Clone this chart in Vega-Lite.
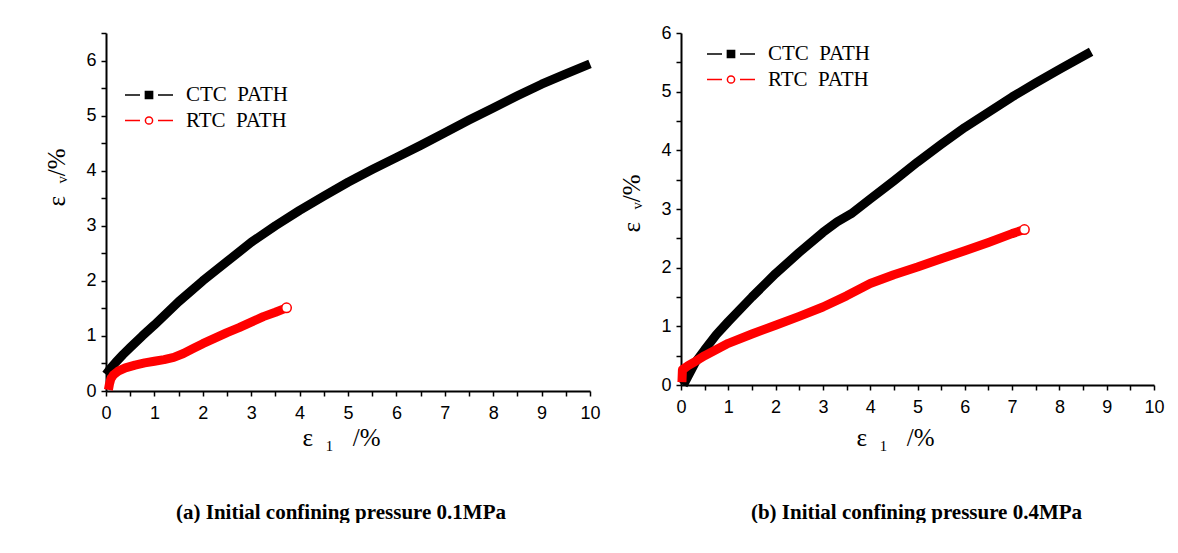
{
  "$schema": "https://vega.github.io/schema/vega-lite/v6.json",
  "background": "white",
  "padding": {"left": 44, "top": 24, "right": 0, "bottom": 0},
  "bounds": "flush",
  "spacing": 91,
  "config": {
    "view": {"stroke": null},
    "font": "Liberation Sans",
    "axis": {"domainColor": "#000", "domainWidth": 2, "tickColor": "#000", "tickWidth": 1.5, "tickSize": 5, "labelFont": "Liberation Sans", "labelFontSize": 18, "labelColor": "#000", "labelPadding": 5, "labelFlush": false, "labelOverlap": false, "grid": false, "titleFont": "Liberation Serif", "titleFontSize": 25, "titleFontWeight": "normal", "titleColor": "#000"},
    "axisX": {"labelPadding": 8},
    "title": {"font": "Liberation Serif", "fontSize": 21, "fontWeight": "bold", "color": "#000"},
    "legend": {"orient": "none", "title": null, "padding": 0, "symbolSize": 576, "labelFont": "Liberation Serif", "labelFontSize": 21, "labelColor": "#000", "labelOffset": 12, "rowPadding": 2.5, "symbolStrokeWidth": 1.5}
  },
  "datasets": {
    "a": [
      {"series": "CTC PATH", "x": 0, "y": 0.3}, {"series": "CTC PATH", "x": 0.1, "y": 0.42}, {"series": "CTC PATH", "x": 0.2, "y": 0.52}, {"series": "CTC PATH", "x": 0.35, "y": 0.66}, {"series": "CTC PATH", "x": 0.5, "y": 0.79}, {"series": "CTC PATH", "x": 0.75, "y": 1.0}, {"series": "CTC PATH", "x": 1, "y": 1.2}, {"series": "CTC PATH", "x": 1.5, "y": 1.62}, {"series": "CTC PATH", "x": 2, "y": 2.0}, {"series": "CTC PATH", "x": 2.5, "y": 2.35}, {"series": "CTC PATH", "x": 3, "y": 2.7}, {"series": "CTC PATH", "x": 3.5, "y": 3.0}, {"series": "CTC PATH", "x": 4, "y": 3.28}, {"series": "CTC PATH", "x": 4.5, "y": 3.54}, {"series": "CTC PATH", "x": 5, "y": 3.79}, {"series": "CTC PATH", "x": 5.5, "y": 4.02}, {"series": "CTC PATH", "x": 6, "y": 4.24}, {"series": "CTC PATH", "x": 6.5, "y": 4.46}, {"series": "CTC PATH", "x": 7, "y": 4.69}, {"series": "CTC PATH", "x": 7.5, "y": 4.92}, {"series": "CTC PATH", "x": 8, "y": 5.14}, {"series": "CTC PATH", "x": 8.5, "y": 5.36}, {"series": "CTC PATH", "x": 9, "y": 5.57}, {"series": "CTC PATH", "x": 9.5, "y": 5.76}, {"series": "CTC PATH", "x": 10, "y": 5.94},
      {"series": "RTC PATH", "x": 0.05, "y": 0.02}, {"series": "RTC PATH", "x": 0.07, "y": 0.12}, {"series": "RTC PATH", "x": 0.1, "y": 0.22}, {"series": "RTC PATH", "x": 0.15, "y": 0.29}, {"series": "RTC PATH", "x": 0.25, "y": 0.36}, {"series": "RTC PATH", "x": 0.4, "y": 0.42}, {"series": "RTC PATH", "x": 0.6, "y": 0.47}, {"series": "RTC PATH", "x": 0.8, "y": 0.51}, {"series": "RTC PATH", "x": 1.0, "y": 0.54}, {"series": "RTC PATH", "x": 1.2, "y": 0.57}, {"series": "RTC PATH", "x": 1.4, "y": 0.61}, {"series": "RTC PATH", "x": 1.6, "y": 0.68}, {"series": "RTC PATH", "x": 1.8, "y": 0.77}, {"series": "RTC PATH", "x": 2.0, "y": 0.86}, {"series": "RTC PATH", "x": 2.25, "y": 0.96}, {"series": "RTC PATH", "x": 2.5, "y": 1.06}, {"series": "RTC PATH", "x": 2.75, "y": 1.15}, {"series": "RTC PATH", "x": 3.0, "y": 1.25}, {"series": "RTC PATH", "x": 3.25, "y": 1.35}, {"series": "RTC PATH", "x": 3.5, "y": 1.43}, {"series": "RTC PATH", "x": 3.73, "y": 1.51}
    ],
    "b": [
      {"series": "CTC PATH", "x": 0.05, "y": 0.0}, {"series": "CTC PATH", "x": 0.15, "y": 0.15}, {"series": "CTC PATH", "x": 0.3, "y": 0.38}, {"series": "CTC PATH", "x": 0.5, "y": 0.6}, {"series": "CTC PATH", "x": 0.75, "y": 0.86}, {"series": "CTC PATH", "x": 1, "y": 1.08}, {"series": "CTC PATH", "x": 1.5, "y": 1.5}, {"series": "CTC PATH", "x": 2, "y": 1.9}, {"series": "CTC PATH", "x": 2.5, "y": 2.26}, {"series": "CTC PATH", "x": 3, "y": 2.6}, {"series": "CTC PATH", "x": 3.3, "y": 2.78}, {"series": "CTC PATH", "x": 3.6, "y": 2.92}, {"series": "CTC PATH", "x": 4, "y": 3.17}, {"series": "CTC PATH", "x": 4.5, "y": 3.48}, {"series": "CTC PATH", "x": 5, "y": 3.8}, {"series": "CTC PATH", "x": 5.5, "y": 4.1}, {"series": "CTC PATH", "x": 6, "y": 4.39}, {"series": "CTC PATH", "x": 6.5, "y": 4.65}, {"series": "CTC PATH", "x": 7, "y": 4.91}, {"series": "CTC PATH", "x": 7.5, "y": 5.15}, {"series": "CTC PATH", "x": 8, "y": 5.38}, {"series": "CTC PATH", "x": 8.67, "y": 5.68},
      {"series": "RTC PATH", "x": 0.02, "y": 0.05}, {"series": "RTC PATH", "x": 0.03, "y": 0.26}, {"series": "RTC PATH", "x": 0.15, "y": 0.33}, {"series": "RTC PATH", "x": 0.3, "y": 0.4}, {"series": "RTC PATH", "x": 0.5, "y": 0.5}, {"series": "RTC PATH", "x": 1, "y": 0.71}, {"series": "RTC PATH", "x": 1.5, "y": 0.87}, {"series": "RTC PATH", "x": 2, "y": 1.02}, {"series": "RTC PATH", "x": 2.5, "y": 1.17}, {"series": "RTC PATH", "x": 3, "y": 1.33}, {"series": "RTC PATH", "x": 3.5, "y": 1.52}, {"series": "RTC PATH", "x": 4, "y": 1.73}, {"series": "RTC PATH", "x": 4.5, "y": 1.88}, {"series": "RTC PATH", "x": 5, "y": 2.01}, {"series": "RTC PATH", "x": 5.5, "y": 2.15}, {"series": "RTC PATH", "x": 6, "y": 2.29}, {"series": "RTC PATH", "x": 6.5, "y": 2.43}, {"series": "RTC PATH", "x": 7, "y": 2.58}, {"series": "RTC PATH", "x": 7.26, "y": 2.65}
    ]
  },
  "hconcat": [
    {
      "width": 484, "height": 358,
      "title": {"text": "(a) Initial confining pressure 0.1MPa", "orient": "bottom", "offset": 52, "frame": "group", "anchor": "middle", "dx": -7},
      "data": {"name": "a"},
      "encoding": {
        "x": {"field": "x", "type": "quantitative", "scale": {"domain": [0, 10], "nice": false},
          "axis": {"values": [0,0.5,1,1.5,2,2.5,3,3.5,4,4.5,5,5.5,6,6.5,7,7.5,8,8.5,9,9.5,10], "labelExpr": "datum.value % 1 === 0 ? format(datum.value, 'd') : ''", "title": "ε\u00a0\u00a0₁\u00a0\u00a0\u00a0/%", "titleX": 235, "titleY": 46, "titleBaseline": "middle", "titleAlign": "center"}},
        "y": {"field": "y", "type": "quantitative", "scale": {"domain": [0, 6.5], "nice": false},
          "axis": {"values": [0,0.5,1,1.5,2,2.5,3,3.5,4,4.5,5,5.5,6,6.5], "labelExpr": "datum.value % 1 === 0 ? format(datum.value, 'd') : ''", "title": "ε\u00a0\u00a0ᵥ/%", "titleX": -50, "titleY": 144, "titleBaseline": "middle", "titleAlign": "center", "titleAngle": 270}}
      },
      "layer": [
        {"mark": {"type": "line", "strokeJoin": "round", "strokeWidth": 9},
          "encoding": {
            "color": {"field": "series", "type": "nominal", "scale": {"domain": ["CTC PATH", "RTC PATH"], "range": ["#000000", "#ff0000"]},
              "legend": {"orient": "none", "legendX": 42, "legendY": 49, "labelExpr": "replace(datum.label, ' ', '\u00a0\u00a0')",
                "encode": {"symbols": {"update": {
                  "shape": {"signal": "datum.value === 'CTC PATH' ? 'M-3,0H-1.75M-0.25,0H1M-1.3,-0.3H-0.7V0.3H-1.3Z' : 'M-3,0H-1.75M-0.25,0H1M-1.3,0A0.3,0.3 0 1,0 -0.7,0A0.3,0.3 0 1,0 -1.3,0Z'"},
                  "fill": {"signal": "datum.value === 'CTC PATH' ? '#000000' : '#ffffff'"},
                  "size": {"value": 576}, "strokeWidth": {"value": 1.5}, "opacity": {"value": 1}}}}}}}},
        {"transform": [{"filter": "datum.series == 'RTC PATH'"}, {"joinaggregate": [{"op": "max", "field": "x", "as": "mx"}]}, {"filter": "datum.x == datum.mx"}],
          "mark": {"type": "point", "shape": "circle", "size": 90, "stroke": "#ff0000", "fill": "#ffffff", "opacity": 1, "strokeWidth": 1.5}}
      ]
    },
    {
      "width": 473, "height": 352,
      "title": {"text": "(b) Initial confining pressure 0.4MPa", "orient": "bottom", "offset": 52, "frame": "group", "anchor": "middle", "dx": -1},
      "data": {"name": "b"},
      "encoding": {
        "x": {"field": "x", "type": "quantitative", "scale": {"domain": [0, 10], "nice": false},
          "axis": {"values": [0,0.5,1,1.5,2,2.5,3,3.5,4,4.5,5,5.5,6,6.5,7,7.5,8,8.5,9,9.5,10], "labelExpr": "datum.value % 1 === 0 ? format(datum.value, 'd') : ''", "title": "ε\u00a0\u00a0₁\u00a0\u00a0\u00a0/%", "titleX": 214, "titleY": 52, "titleBaseline": "middle", "titleAlign": "center"}},
        "y": {"field": "y", "type": "quantitative", "scale": {"domain": [0, 6], "nice": false},
          "axis": {"values": [0,0.5,1,1.5,2,2.5,3,3.5,4,4.5,5,5.5,6], "labelExpr": "datum.value % 1 === 0 ? format(datum.value, 'd') : ''", "title": "ε\u00a0\u00a0ᵥ/%", "titleX": -50, "titleY": 170, "titleBaseline": "middle", "titleAlign": "center", "titleAngle": 270}}
      },
      "layer": [
        {"mark": {"type": "line", "strokeJoin": "round", "strokeWidth": 9},
          "encoding": {
            "color": {"field": "series", "type": "nominal", "scale": {"domain": ["CTC PATH", "RTC PATH"], "range": ["#000000", "#ff0000"]},
              "legend": {"orient": "none", "legendX": 49, "legendY": 8, "labelExpr": "replace(datum.label, ' ', '\u00a0\u00a0')",
                "encode": {"symbols": {"update": {
                  "shape": {"signal": "datum.value === 'CTC PATH' ? 'M-3,0H-1.75M-0.25,0H1M-1.3,-0.3H-0.7V0.3H-1.3Z' : 'M-3,0H-1.75M-0.25,0H1M-1.3,0A0.3,0.3 0 1,0 -0.7,0A0.3,0.3 0 1,0 -1.3,0Z'"},
                  "fill": {"signal": "datum.value === 'CTC PATH' ? '#000000' : '#ffffff'"},
                  "size": {"value": 576}, "strokeWidth": {"value": 1.5}, "opacity": {"value": 1}}}}}}}},
        {"transform": [{"filter": "datum.series == 'RTC PATH'"}, {"joinaggregate": [{"op": "max", "field": "x", "as": "mx"}]}, {"filter": "datum.x == datum.mx"}],
          "mark": {"type": "point", "shape": "circle", "size": 90, "stroke": "#ff0000", "fill": "#ffffff", "opacity": 1, "strokeWidth": 1.5}}
      ]
    }
  ],
  "resolve": {"scale": {"x": "independent", "y": "independent", "color": "independent"}, "legend": {"color": "independent"}}
}
